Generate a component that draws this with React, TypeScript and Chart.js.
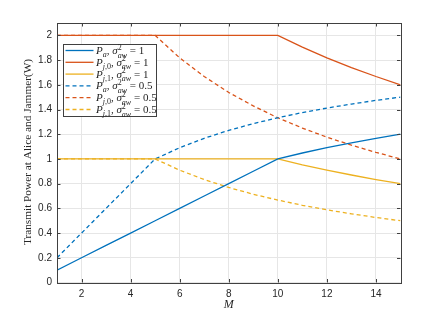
import React, { useEffect, useRef } from "react";
import { Chart, registerables } from "chart.js";

Chart.register(...registerables);

const M = [1, 2, 3, 4, 5, 6, 7, 8, 9, 10, 11, 12, 13, 14, 15];
const paS1 = [0.1, 0.2, 0.3, 0.4, 0.5, 0.6, 0.7, 0.8, 0.9, 1.0, 1.048, 1.091, 1.13, 1.167, 1.2];
const pj0S1 = [2, 2, 2, 2, 2, 2, 2, 2, 2, 2, 1.905, 1.818, 1.739, 1.667, 1.6];
const pj1S1 = [1, 1, 1, 1, 1, 1, 1, 1, 1, 1, 0.952, 0.909, 0.87, 0.833, 0.8];
const paS05 = [0.2, 0.4, 0.6, 0.8, 1.0, 1.091, 1.167, 1.231, 1.286, 1.333, 1.375, 1.412, 1.444, 1.474, 1.5];
const pj0S05 = [2, 2, 2, 2, 2, 1.818, 1.667, 1.538, 1.429, 1.333, 1.25, 1.176, 1.111, 1.053, 1.0];
const pj1S05 = [1, 1, 1, 1, 1, 0.909, 0.833, 0.769, 0.714, 0.667, 0.625, 0.588, 0.556, 0.526, 0.5];

const xTicks = [2, 4, 6, 8, 10, 12, 14];
const yTicks = [0, 0.2, 0.4, 0.6, 0.8, 1, 1.2, 1.4, 1.6, 1.8, 2];

const xTitle = "M";
const yTitle = "Transmit Power at Alice and Jammer(W)";

const blue = "#0072BD";
const red = "#D95319";
const yellow = "#EDB120";

type Run = { t: string; it?: boolean; sz: number; dy: number };
type Part = { runs?: Run[]; stack?: [Run[], Run[]] };

const SERIF = "'Liberation Serif', 'DejaVu Serif', serif";

function fontOf(r: Run) {
  return `${r.it ? "italic " : ""}${r.sz}px ${SERIF}`;
}
function runsWidth(ctx: CanvasRenderingContext2D, runs: Run[]) {
  let w = 0;
  for (const r of runs) {
    ctx.font = fontOf(r);
    w += ctx.measureText(r.t).width;
  }
  return w;
}
function drawRuns(ctx: CanvasRenderingContext2D, x: number, y: number, runs: Run[]) {
  for (const r of runs) {
    ctx.font = fontOf(r);
    ctx.fillText(r.t, x, y + r.dy);
    x += ctx.measureText(r.t).width;
  }
  return x;
}
function drawParts(ctx: CanvasRenderingContext2D, x: number, y: number, parts: Part[]) {
  for (const p of parts) {
    if (p.runs) x = drawRuns(ctx, x, y, p.runs);
    else if (p.stack) {
      const w1 = runsWidth(ctx, p.stack[0]);
      const w2 = runsWidth(ctx, p.stack[1]);
      drawRuns(ctx, x, y, p.stack[0]);
      drawRuns(ctx, x, y, p.stack[1]);
      x += Math.max(w1, w2);
    }
  }
}

function label(sub: string, val: string): Part[] {
  const subRuns: Run[] = [];
  if (sub === "a") subRuns.push({ t: "a", it: true, sz: 8, dy: 3 });
  else {
    subRuns.push({ t: "j", it: true, sz: 8, dy: 3 });
    subRuns.push({ t: "," + sub.slice(2), sz: 8, dy: 3 });
  }
  return [
    { runs: [{ t: "P", it: true, sz: 11, dy: 0 }] },
    { runs: [...subRuns, { t: ",", sz: 11, dy: 0 }] },
    { runs: [{ t: " ", sz: 11, dy: 0 }, { t: "σ", it: true, sz: 11, dy: 0 }] },
    {
      stack: [
        [{ t: "2", sz: 8, dy: -4.5 }],
        [{ t: "aw", it: true, sz: 8, dy: 3.5 }],
      ],
    },
    { runs: [{ t: " = " + val, sz: 11, dy: 0 }] },
  ];
}

const legendItems = [
  { color: blue, dash: [] as number[], parts: label("a", "1") },
  { color: red, dash: [] as number[], parts: label("j,0", "1") },
  { color: yellow, dash: [] as number[], parts: label("j,1", "1") },
  { color: blue, dash: [4, 3], parts: label("a", "0.5") },
  { color: red, dash: [4, 3], parts: label("j,0", "0.5") },
  { color: yellow, dash: [4, 3], parts: label("j,1", "0.5") },
];

const decor = {
  id: "decor",
  afterDraw(chart: any) {
    const ctx: CanvasRenderingContext2D = chart.ctx;
    const a = chart.chartArea;
    const xs = chart.scales.x;
    const ys = chart.scales.y;
    ctx.save();
    // box
    ctx.strokeStyle = "#404040";
    ctx.lineWidth = 1;
    ctx.setLineDash([]);
    ctx.strokeRect(Math.round(a.left) + 0.5, Math.round(a.top) + 0.5, Math.round(a.right - a.left), Math.round(a.bottom - a.top));
    // inner ticks
    const tl = 3.5;
    ctx.beginPath();
    for (const v of xTicks) {
      const px = Math.round(xs.getPixelForValue(v)) + 0.5;
      ctx.moveTo(px, a.bottom);
      ctx.lineTo(px, a.bottom - tl);
      ctx.moveTo(px, a.top);
      ctx.lineTo(px, a.top + tl);
    }
    for (const v of yTicks) {
      const py = Math.round(ys.getPixelForValue(v)) + 0.5;
      ctx.moveTo(a.left, py);
      ctx.lineTo(a.left + tl, py);
      ctx.moveTo(a.right, py);
      ctx.lineTo(a.right - tl, py);
    }
    ctx.stroke();
    // titles
    ctx.fillStyle = "#262626";
    ctx.textAlign = "center";
    ctx.textBaseline = "middle";
    ctx.font = `italic 12px ${SERIF}`;
    ctx.fillText(xTitle, (a.left + a.right) / 2, 305);
    ctx.save();
    ctx.translate(28, 152);
    ctx.rotate(-Math.PI / 2);
    ctx.font = `11.3px ${SERIF}`;
    ctx.fillText(yTitle, 0, 0);
    ctx.restore();
    // legend
    const lx = 63.5, ly = 44.5, lw = 93, lh = 72;
    ctx.fillStyle = "#ffffff";
    ctx.fillRect(lx, ly, lw, lh);
    ctx.strokeStyle = "#404040";
    ctx.strokeRect(lx, ly, lw, lh);
    ctx.textAlign = "left";
    ctx.textBaseline = "alphabetic";
    legendItems.forEach((it, i) => {
      const cy = 50.5 + i * 11.8;
      ctx.strokeStyle = it.color;
      ctx.lineWidth = 1.3;
      ctx.setLineDash(it.dash);
      ctx.beginPath();
      ctx.moveTo(65.5, cy);
      ctx.lineTo(93.5, cy);
      ctx.stroke();
      ctx.setLineDash([]);
      ctx.fillStyle = "#262626";
      drawParts(ctx, 96, cy + 3.5, it.parts);
    });
    ctx.restore();
  },
};

export default function App() {
  const ref = useRef<HTMLCanvasElement>(null);
  useEffect(() => {
    document.body.style.margin = "0";
    const mk = (data: number[], color: string, dashed: boolean) => ({
      data: M.map((m, i) => ({ x: m, y: data[i] })),
      borderColor: color,
      backgroundColor: color,
      borderWidth: 1.3,
      borderDash: dashed ? [4, 3] : [],
      pointRadius: 0,
      tension: 0,
      fill: false,
    });
    const chart = new Chart(ref.current!, {
      type: "line",
      data: {
        datasets: [
          mk(paS1, blue, false),
          mk(pj0S1, red, false),
          mk(pj1S1, yellow, false),
          mk(paS05, blue, true),
          mk(pj0S05, red, true),
          mk(pj1S05, yellow, true),
        ] as any,
      },
      options: {
        responsive: false,
        animation: false,
        layout: { padding: { left: 0, top: 23, right: 42.5, bottom: 0 } },
        plugins: { legend: { display: false }, tooltip: { enabled: false }, title: { display: false } },
        scales: {
          x: {
            type: "linear",
            min: 1,
            max: 15,
            afterBuildTicks: (s: any) => {
              s.ticks = xTicks.map((v) => ({ value: v }));
            },
            afterFit: (s: any) => {
              s.height = 34.5;
            },
            grid: { color: "#e6e6e6", drawTicks: false },
            border: { display: false },
            ticks: {
              padding: 6,
              color: "#262626",
              font: { family: "'Liberation Sans', Arial, sans-serif", size: 10 },
              maxRotation: 0,
              callback: (v: any) => String(v),
            },
          },
          y: {
            type: "linear",
            min: 0,
            max: 2.1,
            afterBuildTicks: (s: any) => {
              s.ticks = yTicks.map((v) => ({ value: v }));
            },
            afterFit: (s: any) => {
              s.width = 57;
            },
            grid: { color: "#e6e6e6", drawTicks: false },
            border: { display: false },
            ticks: {
              padding: 5,
              color: "#262626",
              font: { family: "'Liberation Sans', Arial, sans-serif", size: 10 },
              callback: (v: any) => String(Number(Number(v).toFixed(1))),
            },
          },
        },
      },
      plugins: [decor],
    });
    return () => chart.destroy();
  }, []);
  return (
    <div style={{ width: 443, height: 317 }}>
      <canvas ref={ref} width={443} height={317} />
    </div>
  );
}
